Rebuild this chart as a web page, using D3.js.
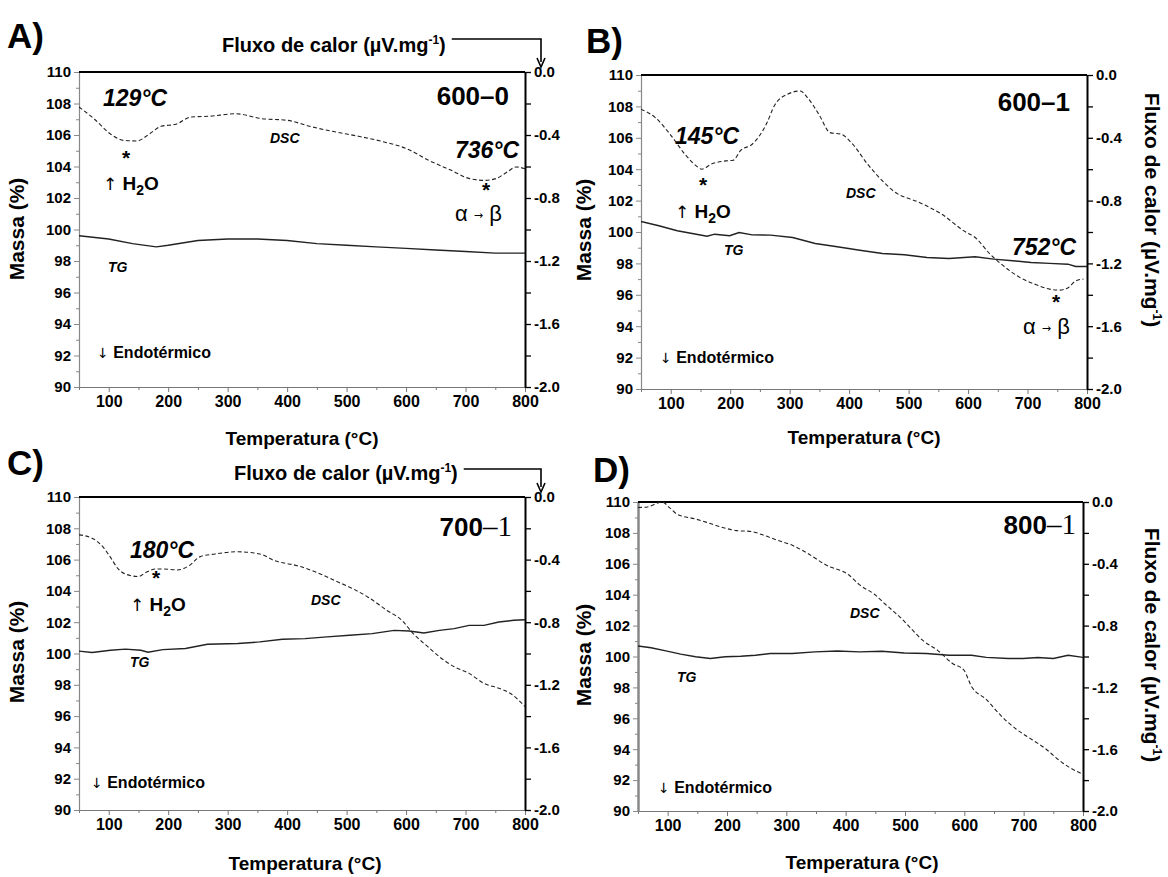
<!DOCTYPE html>
<html><head><meta charset="utf-8">
<script src="https://d3js.org/d3.v7.min.js"></script>
<style>
body{margin:0;background:#fff;}
svg{display:block;}
text{font-family:"Liberation Sans",Arial,sans-serif;fill:#000;}
</style></head>
<body>
<svg id="chart" width="1168" height="877"></svg>
<script>
// ---------- DATA ----------
const xTicks = [100,200,300,400,500,600,700,800];
const xMinor = [50,150,250,350,450,550,650,750];
const massTicks = [90,92,94,96,98,100,102,104,106,108,110];
const massMinor = [91,93,95,97,99,101,103,105,107,109];
const fluxTicks = [-2.0,-1.6,-1.2,-0.8,-0.4,0.0];
const fluxMinor = [-1.8,-1.4,-1.0,-0.6,-0.2];

// Panel A (600-0)
const dscA_T = [50,75,106,125,147,169,188,213,238,269,313,357,401,438,482,520,563,601,638,676,707,732,751,770,785,800];
const dscA_V = [-0.222,-0.296,-0.402,-0.434,-0.438,-0.392,-0.345,-0.332,-0.286,-0.281,-0.265,-0.296,-0.307,-0.345,-0.381,-0.408,-0.444,-0.487,-0.561,-0.624,-0.677,-0.688,-0.677,-0.635,-0.603,-0.614];
const tgA_T = [50,100,140,180,200,250,300,350,400,450,500,550,600,650,700,750,800];
const tgA_V = [99.6,99.4,99.1,98.9,99.0,99.3,99.4,99.4,99.3,99.1,99.0,98.9,98.8,98.7,98.6,98.5,98.5];

// Panel B (600-1)
const dscB_T = [50,74,99,124,143,152,168,193,205,218,237,262,274,296,318,330,349,368,387,406,431,456,474,518,556,593,612,637,656,687,712,737,753,769,781,794];
const dscB_V = [-0.218,-0.271,-0.378,-0.505,-0.579,-0.600,-0.568,-0.547,-0.543,-0.479,-0.441,-0.303,-0.197,-0.123,-0.102,-0.144,-0.250,-0.367,-0.378,-0.441,-0.568,-0.674,-0.738,-0.812,-0.887,-0.993,-1.035,-1.141,-1.205,-1.289,-1.332,-1.364,-1.370,-1.353,-1.311,-1.300];
const tgB_T = [50,80,111,143,161,174,199,215,237,268,305,343,380,418,456,493,531,568,612,643,675,706,737,768,781,800];
const tgB_V = [100.67,100.4,100.08,99.86,99.73,99.86,99.76,99.97,99.82,99.80,99.65,99.27,99.06,98.84,98.63,98.55,98.38,98.31,98.42,98.27,98.17,98.06,98.0,97.95,97.80,97.80];

// Panel C (700-1)
const dscC_T = [50,72,91,103,116,128,150,163,179,191,216,235,254,279,317,354,379,417,449,480,511,536,568,593,612,637,656,681,706,731,756,775,800];
const dscC_V = [-0.242,-0.263,-0.322,-0.386,-0.460,-0.492,-0.508,-0.481,-0.460,-0.460,-0.466,-0.439,-0.381,-0.364,-0.350,-0.364,-0.407,-0.439,-0.481,-0.534,-0.587,-0.640,-0.725,-0.788,-0.873,-0.958,-1.021,-1.085,-1.127,-1.191,-1.222,-1.254,-1.339];
const tgC_T = [50,72,103,128,154,166,191,229,266,317,354,392,430,467,505,543,580,605,630,656,681,706,731,756,781,800];
const tgC_V = [100.15,100.06,100.21,100.28,100.21,100.08,100.25,100.32,100.59,100.64,100.74,100.91,100.95,101.06,101.17,101.27,101.48,101.44,101.31,101.48,101.59,101.8,101.8,102.01,102.12,102.16];

// Panel D (800-1)
const dscD_T = [50,66,85,91,103,116,147,166,191,216,241,263,285,310,336,367,405,423,449,467,492,511,530,555,580,599,612,637,662,687,712,737,756,775,800];
const dscD_V = [-0.036,-0.032,-0.004,0.0,-0.036,-0.079,-0.110,-0.132,-0.163,-0.185,-0.191,-0.217,-0.248,-0.280,-0.333,-0.408,-0.471,-0.535,-0.599,-0.662,-0.747,-0.822,-0.896,-0.960,-1.045,-1.087,-1.193,-1.278,-1.384,-1.469,-1.533,-1.597,-1.660,-1.713,-1.762];
const tgD_T = [50,72,97,122,147,172,197,223,248,273,310,348,386,423,461,499,536,574,612,637,674,699,724,750,775,800];
const tgD_V = [100.68,100.57,100.36,100.15,99.98,99.87,99.98,100.02,100.08,100.19,100.19,100.30,100.36,100.30,100.34,100.23,100.19,100.08,100.08,99.94,99.87,99.87,99.94,99.87,100.08,99.94];

const panelLetters = ["A)","B)","C)","D)"];
const sampleMain = ["600","600","700","800"];
const sampleSub = ["–0","–1","–1","–1"];

// ---------- LAYOUT ----------
const svg = d3.select("#chart");
const SANS = '"Liberation Sans",Arial,sans-serif';
const SERIF = '"Liberation Serif","Times New Roman",serif';
const ARROWF = '"DejaVu Sans","Liberation Sans",sans-serif';

const panels = [
  {L:79, R:525, T:72, B:387, dscT:dscA_T, dscV:dscA_V, tgT:tgA_T, tgV:tgA_V, letter:[7,48], topTitle:true, titleX:222, titleY:52, arrowY:39,
   massX:24, massY:229, tempX:302, tempY:445,
   temps:[{t:"129°C",dx:24,dy:34},{t:"736°C",dx:376,dy:86}],
   stars:[{dx:47,dy:93},{dx:407,dy:125}],
   h2o:{dx:24,dy:118}, ab:{dx:376,dy:149}, dsc:{dx:191,dy:71}, tg:{dx:29,dy:200}, endo:{dx:18,dy:286}, sample:{dx:430,dy:33}, serifSub:false},
  {L:641, R:1087, T:75, B:389, dscT:dscB_T, dscV:dscB_V, tgT:tgB_T, tgV:tgB_V, letter:[586,53], topTitle:false, rightTitleX:1145, rightTitleY:210,
   massX:591, massY:230, tempX:864, tempY:444,
   temps:[{t:"145°C",dx:34,dy:69},{t:"752°C",dx:371,dy:180}],
   stars:[{dx:62,dy:117},{dx:415,dy:234}],
   h2o:{dx:34,dy:143}, ab:{dx:382,dy:259}, dsc:{dx:205,dy:123}, tg:{dx:83,dy:180}, endo:{dx:19,dy:288}, sample:{dx:429,dy:36}, serifSub:false},
  {L:79, R:525, T:497, B:810, dscT:dscC_T, dscV:dscC_V, tgT:tgC_T, tgV:tgC_V, letter:[7,475], topTitle:true, titleX:234, titleY:480, arrowY:469,
   massX:24, massY:652, tempX:305, tempY:870,
   temps:[{t:"180°C",dx:51,dy:61}],
   stars:[{dx:77,dy:88}],
   h2o:{dx:51,dy:114}, ab:null, dsc:{dx:232,dy:108}, tg:{dx:51,dy:170}, endo:{dx:12,dy:291}, sample:{dx:433,dy:39}, serifSub:true},
  {L:638, R:1083, T:502, B:811, dscT:dscD_T, dscV:dscD_V, tgT:tgD_T, tgV:tgD_V, letter:[593,482], topTitle:false, rightTitleX:1145, rightTitleY:645,
   massX:591, massY:655, tempX:862, tempY:869,
   temps:[], stars:[], h2o:null, ab:null, dsc:{dx:212,dy:116}, tg:{dx:39,dy:180}, endo:{dx:20,dy:291}, sample:{dx:438,dy:32}, serifSub:true}
];

function fluxFmt(d){ return (Math.abs(d)<1e-9?0:d).toFixed(1); }

function fluxTitle(sel){
  sel.append("tspan").text("Fluxo de calor (µV.mg");
  sel.append("tspan").attr("font-size",12).attr("dy",-8).text("-1");
  sel.append("tspan").attr("dy",8).text(")");
}

panels.forEach((p,i)=>{
  const g = svg.append("g");
  const x = d3.scaleLinear().domain([50,800]).range([p.L,p.R]);
  const yM = d3.scaleLinear().domain([90,110]).range([p.B,p.T]);
  const yF = d3.scaleLinear().domain([-2,0]).range([p.B,p.T]);

  const cid = "clip"+i;
  svg.append("clipPath").attr("id",cid).append("rect")
    .attr("x",p.L).attr("y",p.T-1).attr("width",p.R-p.L).attr("height",p.B-p.T+1);

  const axStyle = (sel,color,w)=>{ sel.select(".domain").attr("stroke",color).attr("stroke-width",w);
    sel.selectAll(".tick line").attr("stroke",color); sel.selectAll("text").attr("font-family",SANS).attr("font-weight","bold").attr("font-size",15).attr("fill","#000"); };

  const bottom = g.append("g").attr("transform",`translate(0,${p.B})`)
    .call(d3.axisBottom(x).tickValues(xTicks).tickSize(5).tickPadding(4).tickSizeOuter(0));
  axStyle(bottom,"#777",1);
  bottom.selectAll("text").attr("font-size",16);
  const bottomMinor = g.append("g").attr("transform",`translate(0,${p.B})`)
    .call(d3.axisBottom(x).tickValues(xMinor).tickSize(3).tickFormat("").tickSizeOuter(0));
  bottomMinor.select(".domain").remove(); bottomMinor.selectAll("line").attr("stroke","#777");

  const left = g.append("g").attr("transform",`translate(${p.L},0)`)
    .call(d3.axisLeft(yM).tickValues(massTicks).tickSize(5).tickPadding(3).tickSizeOuter(0));
  axStyle(left,"#888",i===3?2.5:1.2);
  const leftMinor = g.append("g").attr("transform",`translate(${p.L},0)`)
    .call(d3.axisLeft(yM).tickValues(massMinor).tickSize(3).tickFormat("").tickSizeOuter(0));
  leftMinor.select(".domain").remove(); leftMinor.selectAll("line").attr("stroke","#888");

  const right = g.append("g").attr("transform",`translate(${p.R},0)`)
    .call(d3.axisRight(yF).tickValues(fluxTicks).tickFormat(fluxFmt).tickSize(6).tickPadding(3).tickSizeOuter(0));
  axStyle(right,"#000",2);
  right.selectAll(".tick line").attr("stroke-width",1.3);
  const rightMinor = g.append("g").attr("transform",`translate(${p.R},0)`)
    .call(d3.axisRight(yF).tickValues(fluxMinor).tickSize(6).tickFormat("").tickSizeOuter(0));
  rightMinor.select(".domain").remove(); rightMinor.selectAll("line").attr("stroke","#000").attr("stroke-width",1.3);

  g.append("line").attr("x1",p.L).attr("x2",p.R).attr("y1",p.T).attr("y2",p.T).attr("stroke","#000").attr("stroke-width",2);

  const dscData = p.dscT.map((t,k)=>[t,p.dscV[k]]);
  const tgData = p.tgT.map((t,k)=>[t,p.tgV[k]]);
  g.append("path").datum(dscData).attr("clip-path",`url(#${cid})`)
    .attr("d",d3.line().x(d=>x(d[0])).y(d=>yF(d[1])).curve(d3.curveMonotoneX))
    .attr("fill","none").attr("stroke","#222").attr("stroke-width",1.1).attr("stroke-dasharray","4,2.5");
  g.append("path").datum(tgData).attr("clip-path",`url(#${cid})`)
    .attr("d",d3.line().x(d=>x(d[0])).y(d=>yM(d[1])).curve(d3.curveLinear))
    .attr("fill","none").attr("stroke","#222").attr("stroke-width",1.4);

  g.append("text").attr("x",p.letter[0]).attr("y",p.letter[1]).attr("font-size",35).attr("font-weight","bold").text(panelLetters[i]);

  g.append("text").attr("transform",`translate(${p.massX},${p.massY}) rotate(-90)`).attr("text-anchor","middle")
    .attr("font-size",21).attr("font-weight","bold").text("Massa (%)");
  g.append("text").attr("x",p.tempX).attr("y",p.tempY).attr("text-anchor","middle")
    .attr("font-size",19).attr("font-weight","bold").text("Temperatura (°C)");

  if(p.topTitle){
    const tt = g.append("text").attr("x",p.titleX).attr("y",p.titleY).attr("font-size",20).attr("font-weight","bold");
    fluxTitle(tt);
    const tw = tt.node().getComputedTextLength();
    const ax = 541;
    g.append("path").attr("d",`M${p.titleX+tw+6},${p.arrowY}H${ax}V${p.T-10}`).attr("fill","none").attr("stroke","#000").attr("stroke-width",1.6);
    g.append("path").attr("d",`M${ax-4},${p.T-14}L${ax},${p.T-5}L${ax+4},${p.T-14}`).attr("fill","none").attr("stroke","#000").attr("stroke-width",1.6);
  } else {
    const rt = g.append("text").attr("transform",`translate(${p.rightTitleX},${p.rightTitleY}) rotate(90)`).attr("text-anchor","middle")
      .attr("font-size",21).attr("font-weight","bold");
    fluxTitle(rt);
  }

  const st = g.append("text").attr("x",p.L+p.sample.dx).attr("y",p.T+p.sample.dy).attr("text-anchor","end").attr("font-weight","bold").attr("font-size",26);
  st.append("tspan").text(sampleMain[i]);
  if(p.serifSub) st.append("tspan").attr("font-family",SERIF).attr("font-weight","normal").attr("font-size",29).text(sampleSub[i]);
  else st.append("tspan").text(sampleSub[i]);

  p.temps.forEach(a=>{
    g.append("text").attr("x",p.L+a.dx).attr("y",p.T+a.dy).attr("font-size",23).attr("font-weight","bold").attr("font-style","italic").text(a.t);
  });
  p.stars.forEach(a=>{
    g.append("text").attr("x",p.L+a.dx).attr("y",p.T+a.dy).attr("text-anchor","middle").attr("font-size",21).attr("font-weight","bold").text("*");
  });
  if(p.h2o){
    const h = g.append("text").attr("x",p.L+p.h2o.dx).attr("y",p.T+p.h2o.dy).attr("font-size",19).attr("font-weight","bold");
    h.append("tspan").attr("font-family",ARROWF).attr("font-weight","normal").attr("font-size",17).text("↑");
    h.append("tspan").text(" H");
    h.append("tspan").attr("font-size",14).attr("dy",5).text("2");
    h.append("tspan").attr("dy",-5).text("O");
  }
  if(p.ab){
    const t = g.append("text").attr("x",p.L+p.ab.dx).attr("y",p.T+p.ab.dy).attr("font-family",SERIF).attr("font-size",22);
    t.append("tspan").text("α ");
    t.append("tspan").attr("font-family",ARROWF).attr("font-size",11).attr("dy",-2).text("→");
    t.append("tspan").attr("dy",2).text(" β");
  }
  g.append("text").attr("x",p.L+p.dsc.dx).attr("y",p.T+p.dsc.dy).attr("font-size",14).attr("font-weight","bold").attr("font-style","italic").text("DSC");
  g.append("text").attr("x",p.L+p.tg.dx).attr("y",p.T+p.tg.dy).attr("font-size",14).attr("font-weight","bold").attr("font-style","italic").text("TG");
  const e = g.append("text").attr("x",p.L+p.endo.dx).attr("y",p.T+p.endo.dy).attr("font-size",16).attr("font-weight","bold");
  e.append("tspan").attr("font-family",ARROWF).attr("font-weight","normal").attr("font-size",14).text("↓");
  e.append("tspan").text(" Endotérmico");
});
</script>
</body></html>
